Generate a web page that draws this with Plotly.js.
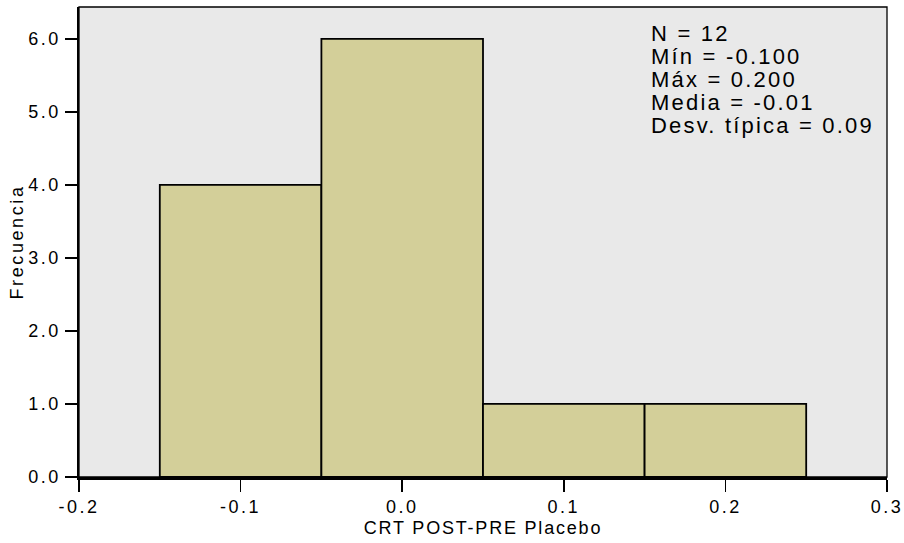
<!DOCTYPE html>
<html><head><meta charset="utf-8">
<script src="https://cdn.plot.ly/plotly-3.0.1.min.js"></script>
<style>
html,body{margin:0;padding:0;background:#fff;}
#chart{width:904px;height:543px;}
.xtick text,.ytick text{letter-spacing:2.5px;}
.g-xtitle text{letter-spacing:1.8px;}
.g-ytitle text{letter-spacing:2.6px;}
.annotation-text{letter-spacing:2.2px;}
</style></head><body><div id="chart"></div>
<script>
const binCenters = [-0.1, 0.0, 0.1, 0.2];
const frequencies = [4, 6, 1, 1];
const binWidth = 0.1;
const statsLines = ['N = 12', 'Mín = -0.100', 'Máx = 0.200', 'Media = -0.01', 'Desv. típica = 0.09'];
const xTickVals = [-0.2, -0.1, 0.0, 0.1, 0.2, 0.3];
const xTickText = ['-0.2', '-0.1', '0.0', '0.1', '0.2', '0.3'];
const yTickVals = [0, 1, 2, 3, 4, 5, 6];
const yTickText = ['0.0', '1.0', '2.0', '3.0', '4.0', '5.0', '6.0'];

const FONT = 'Liberation Sans, Arial, Helvetica, sans-serif';
const plotTop = 7, plotH = 470, lineTop = 33.5, lineStep = 23;

const annotations = statsLines.map((t, i) => ({
  text: t, xref: 'paper', yref: 'paper', x: 0.7055,
  y: 1 - (lineTop + i * lineStep - plotTop) / plotH,
  xanchor: 'left', yanchor: 'middle', showarrow: false,
  font: {family: FONT, size: 22, color: '#000'}
}));

const trace = {
  type: 'bar', x: binCenters, y: frequencies, width: binWidth,
  marker: {color: '#d3cf99', line: {color: '#000', width: 1.8}},
  hoverinfo: 'skip'
};

const layout = {
  width: 904, height: 543,
  margin: {l: 79, r: 17, t: 7, b: 66},
  paper_bgcolor: '#ffffff', plot_bgcolor: '#e9e9e9',
  showlegend: false,
  bargap: 0,
  xaxis: {
    range: [-0.2, 0.3], tickvals: xTickVals, ticktext: xTickText,
    showgrid: false, zeroline: false, showline: true, linecolor: '#000', linewidth: 2.5,
    ticks: 'outside', ticklen: 12, tickwidth: 1.5, tickcolor: '#000',
    tickfont: {family: FONT, size: 18, color: '#000'},
    title: {text: 'CRT POST-PRE Placebo', font: {family: FONT, size: 18, color: '#000'}, standoff: 6}
  },
  yaxis: {
    range: [0, 6.436], tickvals: yTickVals, ticktext: yTickText,
    showgrid: false, zeroline: false, showline: true, linecolor: '#000', linewidth: 2.5,
    ticks: 'outside', ticklen: 12, tickwidth: 1.5, tickcolor: '#000',
    tickfont: {family: FONT, size: 18, color: '#000'},
    title: {text: 'Frecuencia', font: {family: FONT, size: 18, color: '#000'}, standoff: 0}
  },
  shapes: [{type: 'rect', xref: 'paper', yref: 'paper', x0: 0, x1: 1, y0: 0, y1: 1,
            line: {color: '#000', width: 1.3}, layer: 'above'}],
  annotations: annotations
};

Plotly.newPlot('chart', [trace], layout, {displayModeBar: false, staticPlot: true});
</script></body></html>
